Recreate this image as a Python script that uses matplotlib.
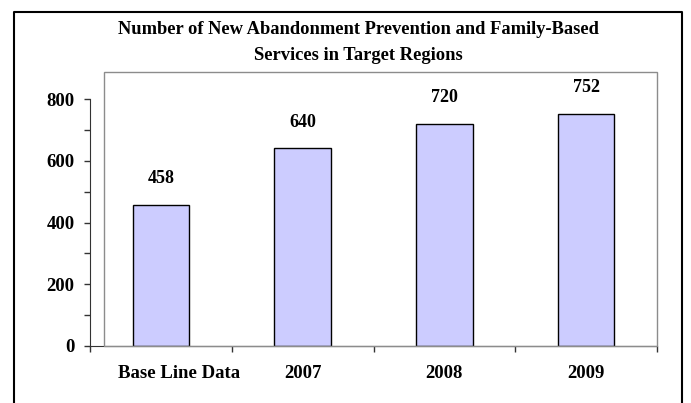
import matplotlib.pyplot as plt
from matplotlib.patches import Rectangle
from matplotlib.lines import Line2D

categorias = ["Base Line Data", "2007", "2008", "2009"]
valores = [458, 640, 720, 752]

plt.rcParams['font.family'] = ['Liberation Serif', 'DejaVu Serif']

fig = plt.figure(figsize=(6.91, 4.03), dpi=100)
W, H = 691, 403

# moldura externa (sem linha de baixo)
fig.add_artist(Line2D([14/W, 14/W, 682/W, 682/W], [0, 1 - 12/H, 1 - 12/H, 0],
                      transform=fig.transFigure, color='black', lw=1.5))

# borda cinza da area do grafico
fig.add_artist(Rectangle((104/W, 1 - 346/H), (657 - 104)/W, (346 - 72)/H,
                         transform=fig.transFigure, fill=False,
                         edgecolor='#8c8c8c', lw=1))

ax = fig.add_axes([90/W, 1 - 346/H, (657 - 90)/W, (346 - 99)/H])
ax.patch.set_alpha(0)

x = range(len(categorias))
ax.bar(x, valores, width=0.40, color='#ccccff', edgecolor='black', linewidth=1, zorder=3)

for i, v in enumerate(valores):
    ax.annotate(str(v), (i, v), xytext=(0, 26), textcoords='offset pixels',
                ha='center', va='center', fontsize=13, fontweight='bold')

ax.set_xlim(-0.5, len(categorias) - 0.5)
ax.set_ylim(0, 800)
ax.set_yticks([0, 200, 400, 600, 800])
ax.set_yticks([100, 300, 500, 700], minor=True)
ax.set_xticks(list(x))
# o primeiro rotulo fica deslocado para a direita no original -> escrito a parte
ax.set_xticklabels([""] + categorias[1:], fontsize=13.5, fontweight='bold')
ax.annotate(categorias[0], xy=(0, 0), xycoords=ax.get_xaxis_transform(),
            xytext=(18, -19), textcoords='offset pixels',
            ha='center', va='top', fontsize=13.5, fontweight='bold')
ax.set_xticks([i - 0.5 for i in range(len(categorias) + 1)], minor=True)
for lab in ax.get_yticklabels():
    lab.set_fontsize(13.5)
    lab.set_fontweight('bold')

ax.tick_params(axis='x', which='major', length=0, pad=14)
ax.tick_params(axis='x', which='minor', length=4, width=1, direction='out', color='#333333')
ax.tick_params(axis='y', which='both', length=4, width=1, direction='out', color='#333333', pad=7)

ax.spines['top'].set_visible(False)
ax.spines['right'].set_visible(False)
ax.spines['left'].set_color('#333333')
ax.spines['bottom'].set_color('#333333')

fig.text(358/W, 1 - 30/H, "Number of New Abandonment Prevention and Family-Based",
         ha='center', va='center', fontsize=13.3, fontweight='bold')
fig.text(358/W, 1 - 55/H, "Services in Target Regions",
         ha='center', va='center', fontsize=13.3, fontweight='bold')

fig.savefig("out.png", dpi=100)
